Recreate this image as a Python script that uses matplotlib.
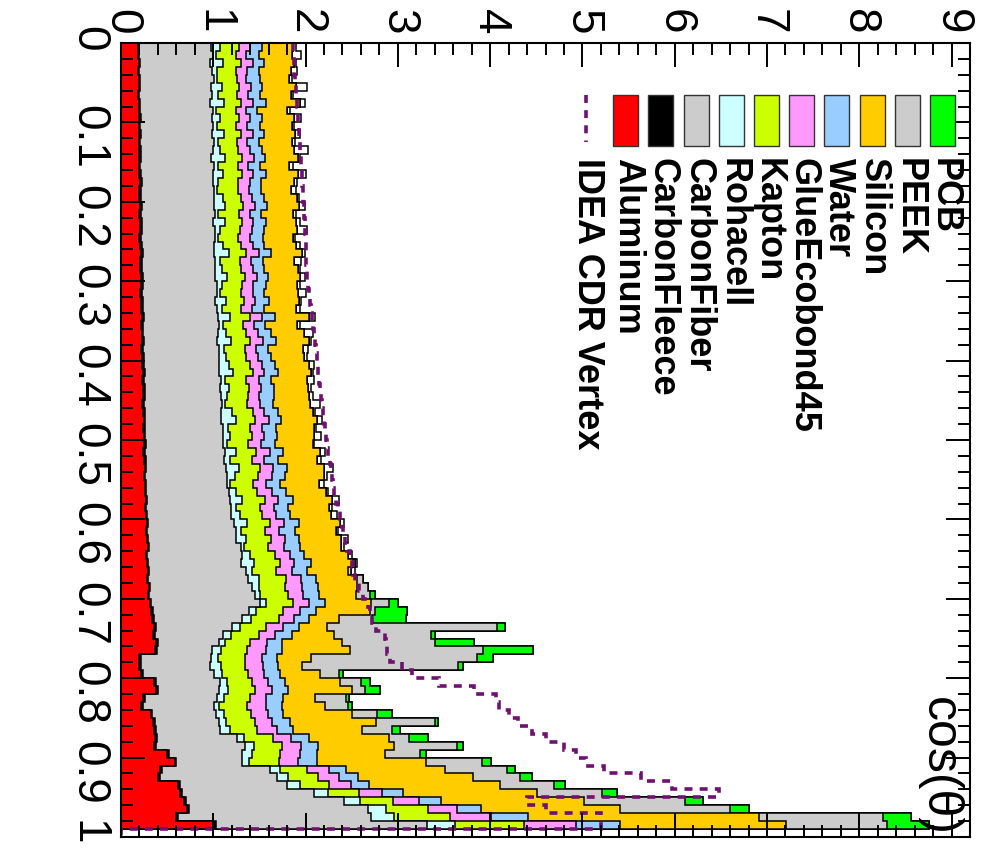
import matplotlib
matplotlib.use("Agg")
import matplotlib.pyplot as plt
import numpy as np
from matplotlib.ticker import MultipleLocator, FixedLocator, FixedFormatter
from matplotlib.patches import Rectangle
from matplotlib.lines import Line2D

plt.rcParams['font.family'] = ['Liberation Sans', 'DejaVu Sans']

# cos(theta) bins, width 0.01
edges = np.linspace(0.0, 1.0, 101)

# material budget per material, one value per bin (0.00-0.01, 0.01-0.02, ...)
aluminum = [
    0.18, 0.18, 0.19, 0.18, 0.19, 0.19, 0.18, 0.19, 0.19, 0.20,
    0.19, 0.20, 0.19, 0.20, 0.20, 0.19, 0.20, 0.21, 0.20, 0.20,
    0.21, 0.20, 0.21, 0.21, 0.20, 0.21, 0.22, 0.21, 0.21, 0.22,
    0.22, 0.21, 0.22, 0.22, 0.23, 0.22, 0.23, 0.23, 0.22, 0.23,
    0.23, 0.24, 0.23, 0.24, 0.24, 0.23, 0.24, 0.25, 0.24, 0.25,
    0.25, 0.24, 0.25, 0.26, 0.25, 0.26, 0.26, 0.27, 0.26, 0.27,
    0.28, 0.27, 0.28, 0.29, 0.27, 0.28, 0.29, 0.28, 0.30, 0.29,
    0.31, 0.33, 0.34, 0.36, 0.35, 0.38, 0.37, 0.20, 0.20, 0.22,
    0.36, 0.38, 0.24, 0.22, 0.32, 0.35, 0.36, 0.37, 0.36, 0.50,
    0.58, 0.42, 0.40, 0.62, 0.64, 0.68, 0.72, 0.60, 1.00, 0.00]
carbon_fleece = [
    0.015, 0.012, 0.016, 0.014, 0.015, 0.013, 0.016, 0.015, 0.014, 0.015,
    0.014, 0.015, 0.016, 0.013, 0.015, 0.014, 0.016, 0.015, 0.013, 0.015,
    0.015, 0.014, 0.016, 0.015, 0.013, 0.015, 0.016, 0.014, 0.015, 0.015,
    0.016, 0.015, 0.014, 0.015, 0.016, 0.015, 0.013, 0.015, 0.016, 0.015,
    0.015, 0.016, 0.014, 0.015, 0.016, 0.015, 0.015, 0.014, 0.016, 0.015,
    0.016, 0.015, 0.016, 0.015, 0.014, 0.016, 0.015, 0.016, 0.015, 0.016,
    0.016, 0.017, 0.015, 0.016, 0.017, 0.016, 0.015, 0.017, 0.016, 0.017,
    0.017, 0.018, 0.017, 0.018, 0.017, 0.018, 0.018, 0.016, 0.016, 0.017,
    0.018, 0.018, 0.016, 0.017, 0.018, 0.018, 0.018, 0.019, 0.018, 0.020,
    0.020, 0.019, 0.019, 0.021, 0.021, 0.022, 0.022, 0.021, 0.025, 0.000]
carbon_fiber = [
    0.78, 0.80, 0.76, 0.79, 0.80, 0.77, 0.79, 0.76, 0.79, 0.77,
    0.79, 0.77, 0.80, 0.78, 0.76, 0.80, 0.78, 0.77, 0.80, 0.79,
    0.78, 0.80, 0.77, 0.79, 0.81, 0.78, 0.77, 0.80, 0.79, 0.78,
    0.80, 0.82, 0.79, 0.81, 0.80, 0.83, 0.81, 0.80, 0.83, 0.82,
    0.82, 0.81, 0.84, 0.82, 0.83, 0.85, 0.83, 0.82, 0.85, 0.84,
    0.84, 0.87, 0.85, 0.86, 0.89, 0.87, 0.90, 0.89, 0.92, 0.91,
    0.93, 0.96, 0.95, 0.99, 1.02, 1.00, 1.05, 1.08, 1.10, 1.15,
    1.18, 1.04, 0.95, 0.83, 0.74, 0.66, 0.60, 0.76, 0.75, 0.77,
    0.70, 0.66, 0.78, 0.77, 0.69, 0.69, 0.70, 0.87, 0.97, 0.79,
    0.71, 1.18, 1.27, 1.16, 1.43, 1.71, 1.93, 2.09, 2.29, 0.00]
rohacell = [
    0.10, 0.04, 0.14, 0.06, 0.03, 0.12, 0.07, 0.15, 0.04, 0.09,
    0.05, 0.13, 0.04, 0.08, 0.15, 0.05, 0.11, 0.06, 0.03, 0.10,
    0.12, 0.04, 0.13, 0.06, 0.03, 0.10, 0.16, 0.05, 0.08, 0.13,
    0.06, 0.03, 0.11, 0.05, 0.14, 0.04, 0.09, 0.15, 0.05, 0.07,
    0.11, 0.15, 0.04, 0.09, 0.06, 0.03, 0.12, 0.16, 0.05, 0.08,
    0.04, 0.12, 0.06, 0.14, 0.08, 0.04, 0.07, 0.13, 0.05, 0.09,
    0.14, 0.05, 0.11, 0.04, 0.09, 0.15, 0.06, 0.12, 0.08, 0.05,
    0.06, 0.08, 0.10, 0.08, 0.09, 0.07, 0.10, 0.08, 0.12, 0.09,
    0.07, 0.10, 0.08, 0.06, 0.09, 0.08, 0.10, 0.07, 0.09, 0.11,
    0.08, 0.10, 0.12, 0.14, 0.15, 0.18, 0.20, 0.25, 0.30, 0.00]
kapton = [
    0.20, 0.21, 0.19, 0.20, 0.22, 0.19, 0.20, 0.18, 0.21, 0.20,
    0.20, 0.19, 0.21, 0.20, 0.19, 0.21, 0.20, 0.21, 0.22, 0.20,
    0.20, 0.22, 0.19, 0.21, 0.22, 0.20, 0.19, 0.22, 0.21, 0.20,
    0.21, 0.22, 0.20, 0.21, 0.21, 0.22, 0.21, 0.20, 0.23, 0.22,
    0.22, 0.21, 0.23, 0.22, 0.23, 0.24, 0.22, 0.21, 0.24, 0.23,
    0.23, 0.22, 0.24, 0.23, 0.25, 0.24, 0.23, 0.25, 0.26, 0.24,
    0.25, 0.26, 0.27, 0.26, 0.27, 0.28, 0.27, 0.29, 0.28, 0.30,
    0.30, 0.29, 0.31, 0.28, 0.30, 0.27, 0.28, 0.29, 0.26, 0.28,
    0.27, 0.29, 0.28, 0.30, 0.29, 0.31, 0.30, 0.32, 0.31, 0.30,
    0.32, 0.30, 0.33, 0.31, 0.34, 0.36, 0.45, 0.60, 0.75, 0.00]
glue_ecobond45 = [
    0.12, 0.11, 0.13, 0.12, 0.10, 0.13, 0.12, 0.14, 0.11, 0.12,
    0.12, 0.13, 0.11, 0.12, 0.13, 0.11, 0.12, 0.13, 0.12, 0.11,
    0.13, 0.12, 0.11, 0.13, 0.12, 0.12, 0.14, 0.11, 0.12, 0.13,
    0.12, 0.13, 0.12, 0.11, 0.13, 0.12, 0.13, 0.14, 0.12, 0.13,
    0.13, 0.12, 0.14, 0.13, 0.12, 0.14, 0.13, 0.15, 0.13, 0.14,
    0.14, 0.15, 0.13, 0.14, 0.15, 0.14, 0.16, 0.14, 0.15, 0.15,
    0.15, 0.16, 0.15, 0.17, 0.16, 0.15, 0.17, 0.16, 0.18, 0.17,
    0.17, 0.18, 0.16, 0.19, 0.17, 0.18, 0.20, 0.18, 0.19, 0.17,
    0.18, 0.19, 0.17, 0.20, 0.18, 0.19, 0.21, 0.19, 0.20, 0.22,
    0.21, 0.23, 0.22, 0.24, 0.25, 0.28, 0.32, 0.45, 0.57, 0.00]
water = [
    0.13, 0.14, 0.12, 0.13, 0.15, 0.12, 0.13, 0.14, 0.12, 0.13,
    0.14, 0.12, 0.13, 0.14, 0.12, 0.13, 0.15, 0.12, 0.13, 0.14,
    0.13, 0.12, 0.14, 0.13, 0.15, 0.12, 0.13, 0.14, 0.13, 0.12,
    0.14, 0.13, 0.15, 0.13, 0.14, 0.12, 0.14, 0.15, 0.13, 0.14,
    0.14, 0.15, 0.13, 0.14, 0.16, 0.14, 0.15, 0.13, 0.15, 0.14,
    0.15, 0.14, 0.16, 0.15, 0.14, 0.16, 0.15, 0.17, 0.15, 0.16,
    0.16, 0.17, 0.15, 0.17, 0.16, 0.18, 0.16, 0.17, 0.18, 0.17,
    0.17, 0.18, 0.16, 0.17, 0.19, 0.17, 0.18, 0.16, 0.17, 0.18,
    0.18, 0.17, 0.19, 0.18, 0.17, 0.19, 0.18, 0.20, 0.19, 0.18,
    0.20, 0.19, 0.21, 0.20, 0.22, 0.24, 0.26, 0.40, 0.47, 0.00]
silicon = [
    0.34, 0.36, 0.33, 0.35, 0.32, 0.36, 0.34, 0.37, 0.33, 0.35,
    0.35, 0.33, 0.36, 0.34, 0.35, 0.32, 0.34, 0.36, 0.33, 0.35,
    0.34, 0.35, 0.33, 0.36, 0.32, 0.35, 0.34, 0.33, 0.36, 0.34,
    0.34, 0.36, 0.33, 0.35, 0.37, 0.34, 0.36, 0.35, 0.38, 0.36,
    0.37, 0.36, 0.39, 0.37, 0.38, 0.40, 0.38, 0.39, 0.41, 0.40,
    0.41, 0.40, 0.42, 0.41, 0.43, 0.42, 0.44, 0.42, 0.45, 0.44,
    0.45, 0.44, 0.46, 0.45, 0.47, 0.46, 0.45, 0.44, 0.42, 0.40,
    0.50, 0.58, 0.32, 0.30, 0.45, 0.65, 0.73, 0.37, 0.25, 0.43,
    0.60, 0.70, 0.35, 0.46, 0.75, 0.93, 0.74, 0.87, 0.82, 0.74,
    1.19, 1.07, 1.24, 1.42, 1.46, 1.54, 1.50, 2.50, 1.80, 0.00]
peek = [
    0.00, 0.00, 0.00, 0.00, 0.00, 0.00, 0.00, 0.00, 0.00, 0.00,
    0.00, 0.00, 0.00, 0.00, 0.00, 0.00, 0.00, 0.00, 0.00, 0.00,
    0.00, 0.00, 0.00, 0.00, 0.00, 0.00, 0.00, 0.00, 0.00, 0.00,
    0.00, 0.00, 0.00, 0.00, 0.00, 0.00, 0.00, 0.00, 0.00, 0.00,
    0.00, 0.00, 0.00, 0.00, 0.00, 0.00, 0.00, 0.00, 0.00, 0.00,
    0.00, 0.00, 0.00, 0.00, 0.00, 0.00, 0.00, 0.00, 0.00, 0.00,
    0.00, 0.00, 0.00, 0.00, 0.00, 0.02, 0.03, 0.06, 0.12, 0.15,
    0.20, 0.05, 0.36, 1.85, 1.05, 1.00, 1.45, 1.80, 1.70, 0.20,
    0.22, 0.14, 0.33, 0.25, 0.27, 0.64, 0.33, 0.21, 0.68, 0.38,
    0.60, 0.67, 0.52, 0.58, 0.70, 1.10, 1.20, 1.35, 1.10, 0.00]
pcb = [
    0.00, 0.00, 0.00, 0.00, 0.00, 0.00, 0.00, 0.00, 0.00, 0.00,
    0.00, 0.00, 0.00, 0.00, 0.00, 0.00, 0.00, 0.00, 0.00, 0.00,
    0.00, 0.00, 0.00, 0.00, 0.00, 0.00, 0.00, 0.00, 0.00, 0.00,
    0.00, 0.00, 0.00, 0.00, 0.00, 0.00, 0.00, 0.00, 0.00, 0.00,
    0.00, 0.00, 0.00, 0.00, 0.00, 0.00, 0.00, 0.00, 0.00, 0.00,
    0.00, 0.00, 0.00, 0.00, 0.00, 0.00, 0.00, 0.00, 0.00, 0.00,
    0.00, 0.00, 0.00, 0.00, 0.00, 0.00, 0.00, 0.00, 0.00, 0.05,
    0.10, 0.35, 0.37, 0.08, 0.05, 0.43, 0.54, 0.17, 0.05, 0.05,
    0.10, 0.16, 0.03, 0.05, 0.16, 0.04, 0.09, 0.21, 0.07, 0.07,
    0.10, 0.09, 0.12, 0.12, 0.16, 0.20, 0.20, 0.30, 0.45, 0.00]
# thin unlabelled top layer (white bars with black outline)
other = [
    0.03, 0.10, 0.02, 0.06, 0.03, 0.12, 0.02, 0.05, 0.03, 0.08,
    0.02, 0.06, 0.03, 0.15, 0.02, 0.04, 0.09, 0.03, 0.05, 0.02,
    0.07, 0.03, 0.04, 0.11, 0.02, 0.05, 0.03, 0.08, 0.02, 0.06,
    0.03, 0.09, 0.02, 0.04, 0.07, 0.03, 0.10, 0.02, 0.05, 0.03,
    0.06, 0.02, 0.08, 0.03, 0.04, 0.11, 0.02, 0.05, 0.03, 0.07,
    0.02, 0.06, 0.04, 0.09, 0.03, 0.05, 0.02, 0.08, 0.03, 0.06,
    0.04, 0.02, 0.07, 0.03, 0.05, 0.02, 0.04, 0.00, 0.00, 0.00,
    0.00, 0.00, 0.00, 0.00, 0.00, 0.00, 0.00, 0.00, 0.00, 0.00,
    0.00, 0.00, 0.00, 0.00, 0.00, 0.00, 0.00, 0.00, 0.00, 0.00,
    0.00, 0.00, 0.00, 0.00, 0.00, 0.00, 0.00, 0.00, 0.00, 0.00]
# IDEA CDR vertex total
idea_vertex = [
    1.86, 1.87, 1.88, 1.88, 1.89, 1.90, 1.90, 1.91, 1.92, 1.92,
    1.93, 1.93, 1.94, 1.94, 1.95, 1.95, 1.96, 1.96, 1.97, 1.97,
    1.98, 1.98, 1.99, 1.99, 2.00, 2.00, 2.01, 2.01, 2.02, 2.02,
    2.03, 2.04, 2.05, 2.06, 2.07, 2.08, 2.09, 2.10, 2.11, 2.12,
    2.13, 2.14, 2.15, 2.16, 2.17, 2.18, 2.19, 2.20, 2.21, 2.22,
    2.23, 2.24, 2.26, 2.28, 2.29, 2.30, 2.31, 2.33, 2.35, 2.37,
    2.39, 2.41, 2.43, 2.45, 2.48, 2.50, 2.51, 2.54, 2.58, 2.62,
    2.68, 2.70, 2.72, 2.76, 2.86, 2.87, 2.88, 2.91, 3.05, 3.15,
    3.45, 3.83, 4.06, 4.10, 4.20, 4.30, 4.45, 4.60, 4.80, 4.93,
    5.04, 5.23, 5.64, 5.97, 6.48, 4.40, 4.60, 5.20, 5.20, 0.00]

names = ['Aluminum', 'CarbonFleece', 'CarbonFiber', 'Rohacell', 'Kapton',
         'GlueEcobond45', 'Water', 'Silicon', 'PEEK', 'PCB', '']
colors = ['#ff0000', '#000000', '#cccccc', '#ccffff', '#ccff00',
          '#ff99ff', '#99ccff', '#ffcc00', '#cccccc', '#00ff00', '#ffffff']
series = [aluminum, carbon_fleece, carbon_fiber, rohacell, kapton,
          glue_ecobond45, water, silicon, peek, pcb, other]

W, H = 986, 851
fig = plt.figure(figsize=(W / 100, H / 100), dpi=100)
ax = fig.add_axes([121 / W, 1 - 837 / H, (970 - 121) / W, (837 - 43) / H])

cum = np.cumsum(np.array(series), axis=0)
# like THStack: draw the total first, then each lower sum over it
for i in range(len(series) - 1, -1, -1):
    ax.stairs(cum[i], edges, orientation='horizontal', baseline=0, fill=True,
              facecolor=colors[i], edgecolor='black', linewidth=1.1)

ax.stairs(idea_vertex, edges, orientation='horizontal', baseline=None,
          color='#701070', linewidth=2.6, linestyle=(0, (2.2, 2.0)))

ax.set_xlim(0, 9.2)
ax.set_ylim(1, 0)
ax.xaxis.set_major_locator(FixedLocator(range(10)))
ax.xaxis.set_major_formatter(FixedFormatter([str(i) for i in range(10)]))
ax.xaxis.set_minor_locator(MultipleLocator(0.2))
yt = [i / 10 for i in range(11)]
ax.yaxis.set_major_locator(FixedLocator(yt))
ax.yaxis.set_major_formatter(FixedFormatter(['0'] + ['%.1f' % v for v in yt[1:-1]] + ['1']))
ax.yaxis.set_minor_locator(MultipleLocator(0.02))
ax.tick_params(which='both', direction='in', top=True, bottom=True,
               left=True, right=True, labeltop=True, labelbottom=False,
               width=1.4, labelsize=33)
ax.tick_params(which='major', length=17)
ax.tick_params(which='minor', length=8.5)
ax.tick_params(axis='x', pad=6)
ax.tick_params(axis='y', pad=8)
for lab in ax.get_xticklabels() + ax.get_yticklabels():
    lab.set_rotation(-90)
for sp in ax.spines.values():
    sp.set_linewidth(1.5)


def fx(x):
    return x / W


def fy(y):
    return 1 - y / H


# legend, drawn by hand so that it is rotated like the rest
order = [9, 8, 7, 6, 5, 4, 3, 2, 1, 0]
for k, i in enumerate(order):
    x0 = 930 - 35.2 * k
    fig.add_artist(Rectangle((fx(x0), fy(146)), 25 / W, 51 / H,
                             transform=fig.transFigure, facecolor=colors[i],
                             edgecolor='#333333', linewidth=1.0))
    fig.text(fx(x0 + 12.5 - 8), fy(158), names[i], rotation=-90,
             rotation_mode='anchor', ha='left', va='baseline',
             fontsize=26, fontweight='bold')
xl = 930 - 35.2 * 10 + 8
fig.add_artist(Line2D([fx(xl), fx(xl)], [fy(95), fy(142)],
                      transform=fig.transFigure, color='#701070',
                      linewidth=2.6, linestyle=(0, (2.2, 2.0))))
fig.text(fx(xl - 8), fy(158), 'IDEA CDR Vertex', rotation=-90,
         rotation_mode='anchor', ha='left', va='baseline',
         fontsize=26, fontweight='bold')

fig.text(fx(926), fy(836), 'cos(θ)', rotation=-90, rotation_mode='anchor',
         ha='right', va='baseline', fontsize=36)

fig.savefig('out.png', dpi=100)
